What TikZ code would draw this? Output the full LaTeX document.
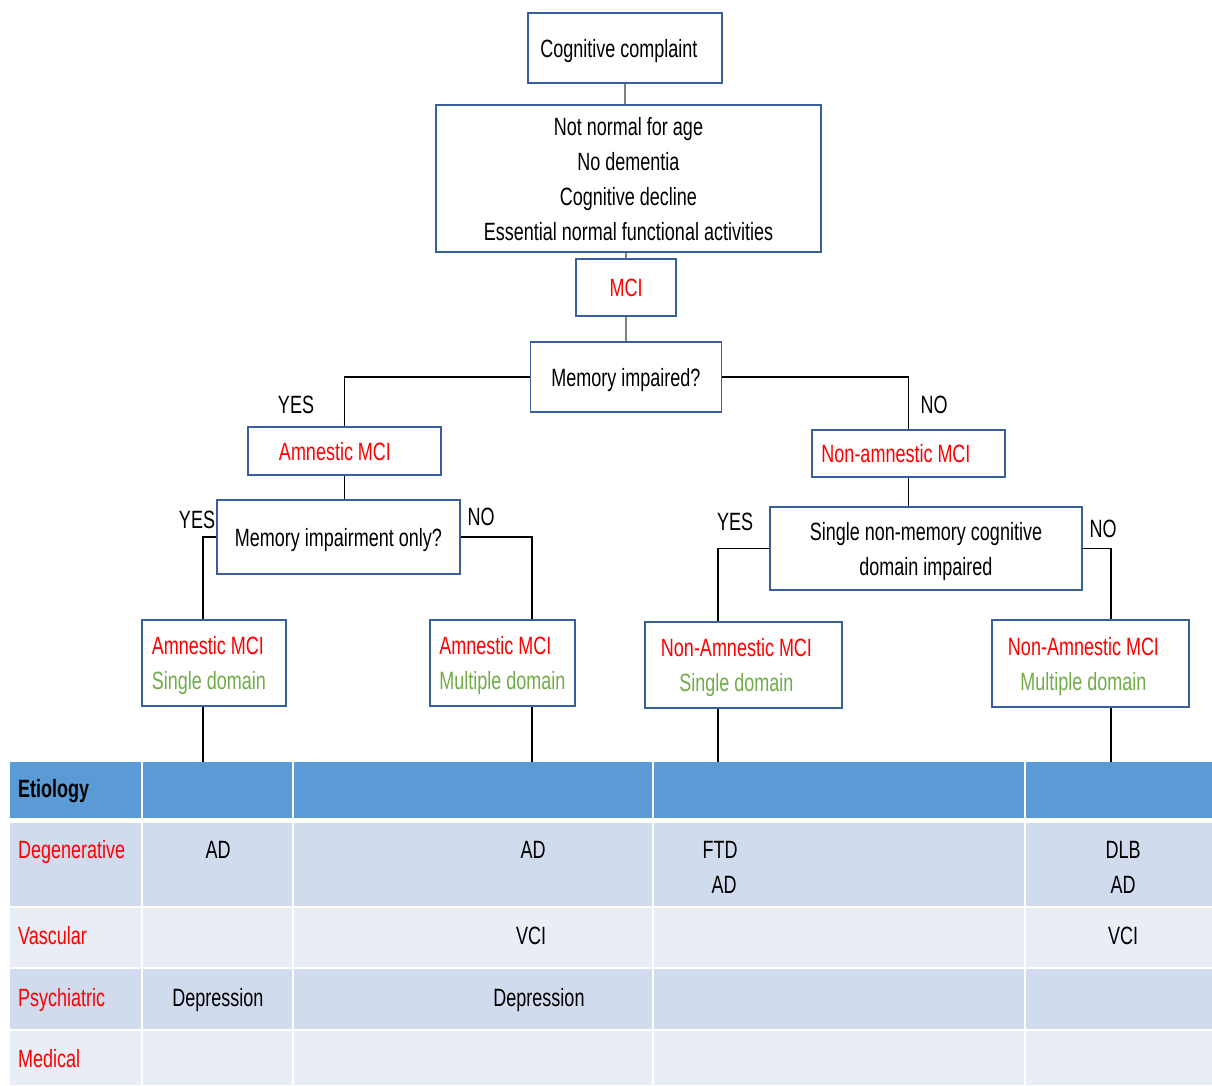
\documentclass[tikz,border=0pt]{standalone}
\usepackage{fontspec}
\setmainfont{Liberation Sans}[FakeStretch=0.72]
\usetikzlibrary{arrows.meta}
\definecolor{boxblue}{HTML}{3A5F9E}
\definecolor{mcired}{HTML}{FF0000}
\definecolor{domgreen}{HTML}{70AD47}
\definecolor{hdrblue}{HTML}{5B9BD5}
\definecolor{rowdark}{HTML}{D0DBEE}
\definecolor{rowlight}{HTML}{E9EDF6}
\newcommand{\fs}{\fontsize{25}{35}\selectfont}

\begin{document}
\begin{tikzpicture}[x=1pt,y=-1pt,
    box/.style={draw=boxblue,line width=1.6pt,fill=white,inner sep=0pt,align=center,font=\fs,text depth=0pt},
    twoline/.style={text depth=-4pt},
    lbl/.style={inner sep=0pt,font=\fs,text height=18pt,text depth=0pt},
    link/.style={draw=black,line width=1.4pt},
    toplink/.style={draw=gray,line width=1.4pt}]
\useasboundingbox (0,0) rectangle (1212,1085);

\begin{scope}
    \node (cc) at (625,48) [box,minimum width=194pt,minimum height=70pt] {\hspace*{-12pt}Cognitive complaint};
    \node (crit) at (628.5,178.5) [box,twoline,minimum width=385pt,minimum height=147pt] {Not normal for age\\No dementia\\Cognitive decline\\Essential normal functional activities};
    \node (mci) at (626,287.5) [box,text=mcired,minimum width=100pt,minimum height=57pt] {MCI};
    \node (mem) at (626,377) [box,minimum width=191pt,minimum height=70pt] {Memory impaired?};

    \node (amn) at (344.5,451) [box,text=mcired,minimum width=193pt,minimum height=48pt] {\hspace*{-19pt}Amnestic MCI};
    \node (namn) at (908.5,453.5) [box,text=mcired,minimum width=193pt,minimum height=47pt] {\hspace*{-25pt}Non-amnestic MCI};

    \node (memonly) at (338.5,537) [box,twoline,minimum width=243pt,minimum height=74pt] {Memory impairment only?};
    \node (single) at (926,548.5) [box,twoline,minimum width=312pt,minimum height=83pt] {Single non-memory cognitive\\domain impaired};

    \node (asd) at (214,663) [box,twoline,align=left,minimum width=144pt,minimum height=86pt] {\hspace*{-10pt}{\color{mcired}Amnestic MCI}\\\hspace*{-10pt}{\color{domgreen}Single domain}};
    \node (amd) at (502.5,663) [box,twoline,align=left,minimum width=145pt,minimum height=86pt] {{\color{mcired}Amnestic MCI}\\{\color{domgreen}Multiple domain}};
    \node (nsd) at (743.5,665) [box,twoline,minimum width=197pt,minimum height=86pt] {\hspace*{-14pt}{\color{mcired}Non-Amnestic MCI}\\\hspace*{-14pt}{\color{domgreen}Single domain}};
    \node (nmd) at (1090.5,663.5) [box,twoline,minimum width=197pt,minimum height=87pt] {\hspace*{-14pt}{\color{mcired}Non-Amnestic MCI}\\\hspace*{-14pt}{\color{domgreen}Multiple domain}};

    \node (yes1) at (296,404) [lbl] {YES};
    \node (no1) at (934,404) [lbl] {NO};
    \node (yes2) at (197,519) [lbl] {YES};
    \node (no2) at (481,516) [lbl] {NO};
    \node (yes3) at (735,521) [lbl] {YES};
    \node (no3) at (1103,528) [lbl] {NO};
\end{scope}

% table
\coordinate (tabtop) at (0,762);
\fill[hdrblue] (10,762) rectangle (1212,818);
\foreach \ya/\yb/\c in {823/906/rowdark, 908/967/rowlight, 969/1029/rowdark, 1031/1085/rowlight}
    \fill[\c] (10,\ya) rectangle (1212,\yb);
\foreach \x in {142,293,653,1025}
    \draw[white,line width=2pt] (\x,762) -- (\x,1085);

\begin{scope}[every node/.style={lbl}]
    \node (etio) at (18,788) [anchor=west,font=\fs\bfseries] {Etiology};
    \node (degen) at (18,849) [anchor=west,text=mcired] {Degenerative};
    \node (vasc) at (18,935) [anchor=west,text=mcired] {Vascular};
    \node (psych) at (18,997) [anchor=west,text=mcired] {Psychiatric};
    \node (medic) at (18,1058) [anchor=west,text=mcired] {Medical};

    \node (ad1) at (218,849) {AD};
    \node (dep1) at (218,997) {Depression};
    \node (ad2) at (533,849) {AD};
    \node (vci2) at (531,935) {VCI};
    \node (dep2) at (539,997) {Depression};
    \node (ftd3) at (720,849) {FTD};
    \node (ad3) at (724,884) {AD};
    \node (dlb4) at (1123,849) {DLB};
    \node (ad4) at (1123,884) {AD};
    \node (vci4) at (1123,935) {VCI};
\end{scope}

% connectors
\draw[toplink] (cc.south) -- (cc.south |- crit.north);
\draw[toplink] (mci.north |- crit.south) -- (mci.north);
\draw[toplink] (mci.south) -- (mci.south |- mem.north);

\draw[link] (mem.west) -| (amn.north);
\draw[link] (mem.east) -| (namn.north);
\draw[link] (amn.south) -- (amn.south |- memonly.north);
\draw[link] (namn.south) -- (namn.south |- single.north);

\draw[link] (memonly.west) -| ([xshift=-11pt]asd.north);
\draw[link] (memonly.east) -| ([xshift=29.5pt]amd.north);
\draw[link] (single.west) -| ([xshift=-25.5pt]nsd.north);
\draw[link] (single.east) -| ([xshift=20.5pt]nmd.north);

\draw[link] ([xshift=-11pt]asd.south) -- ([xshift=-11pt]asd.south |- tabtop);
\draw[link] ([xshift=29.5pt]amd.south) -- ([xshift=29.5pt]amd.south |- tabtop);
\draw[link] ([xshift=-25.5pt]nsd.south) -- ([xshift=-25.5pt]nsd.south |- tabtop);
\draw[link] ([xshift=20.5pt]nmd.south) -- ([xshift=20.5pt]nmd.south |- tabtop);
\end{tikzpicture}
\end{document}
